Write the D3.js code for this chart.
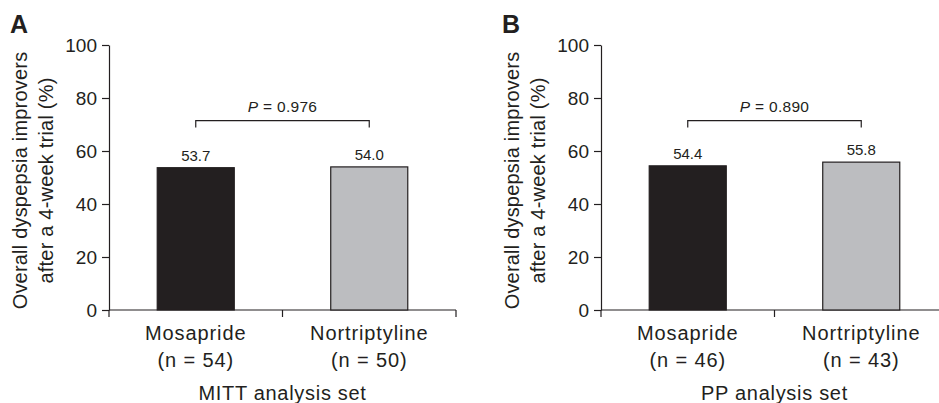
<!doctype html>
<html lang="en">
<head>
    <meta charset="utf-8" />
    <title>Dyspepsia improvers</title>
    <style>
        body { margin: 0; background: #fff; }
        svg { display: block; font-family: "Liberation Sans", Arial, Helvetica, sans-serif; }
    </style>
</head>
<body>
    <svg id="chart"></svg>

    <script src="https://cdn.jsdelivr.net/npm/d3@7/dist/d3.min.js"></script>
    <script>
        // data
        const groups = ["Mosapride", "Nortriptyline"];
        const mittValues = [53.7, 54.0];
        const mittN = [54, 50];
        const ppValues = [54.4, 55.8];
        const ppN = [46, 43];
        const pValues = ["0.976", "0.890"];
        const panelLetters = ["A", "B"];
        const setLabels = ["MITT analysis set", "PP analysis set"];
        const yTicks = [0, 20, 40, 60, 80, 100];
        const barColors = ["#231f20", "#bcbdc0"];

        const width = 939, height = 403;
        const ink = "#231f20";

        const svg = d3.select("#chart")
            .attr("width", width)
            .attr("height", height)
            .attr("viewBox", [0, 0, width, height]);

        const panels = [
            {letter: panelLetters[0], values: mittValues, n: mittN, p: pValues[0], set: setLabels[0], ox: 0},
            {letter: panelLetters[1], values: ppValues, n: ppN, p: pValues[1], set: setLabels[1], ox: 492}
        ];

        panels.forEach(d => drawPanel(svg.append("g").attr("transform", `translate(${d.ox},0)`), d));

        function drawPanel(g, d) {
            const x0 = 109, x1 = 456, yBottom = 310, yTop = 45;

            const x = d3.scaleBand()
                .domain(groups)
                .range([x0, x1])
                .paddingInner(0.556)
                .paddingOuter(0.278);
            const y = d3.scaleLinear()
                .domain([0, 100])
                .range([yBottom, yTop]);

            // y axis
            const yAxis = g.append("g")
                .attr("transform", `translate(${x0},0)`)
                .call(d3.axisLeft(y).tickValues(yTicks).tickSize(7).tickPadding(5).tickSizeOuter(0));
            yAxis.select(".domain").attr("stroke", ink).attr("stroke-width", 1.2);
            yAxis.selectAll(".tick line").attr("stroke", ink).attr("stroke-width", 1.2);
            yAxis.selectAll(".tick text")
                .attr("fill", ink)
                .attr("font-size", 19)
                .attr("font-family", "Liberation Sans, Arial, sans-serif");

            // x axis: line plus ticks at band boundaries
            const xAxis = g.append("g").attr("stroke", ink).attr("stroke-width", 1.2);
            xAxis.append("line")
                .attr("x1", x0).attr("x2", x1)
                .attr("y1", yBottom).attr("y2", yBottom);
            const bounds = [x0].concat(groups.map(c => x(c) + x.bandwidth() / 2 + x.step() / 2));
            xAxis.selectAll("line.tk")
                .data(bounds)
                .join("line")
                .attr("class", "tk")
                .attr("x1", b => b).attr("x2", b => b)
                .attr("y1", yBottom).attr("y2", yBottom + 7);

            // bars
            g.append("g")
                .selectAll("rect")
                .data(groups)
                .join("rect")
                .attr("x", c => x(c))
                .attr("y", (c, i) => y(d.values[i]))
                .attr("width", x.bandwidth())
                .attr("height", (c, i) => yBottom - y(d.values[i]))
                .attr("fill", (c, i) => barColors[i])
                .attr("stroke", ink)
                .attr("stroke-width", 1.2);

            // value labels
            g.append("g")
                .selectAll("text")
                .data(groups)
                .join("text")
                .attr("x", c => x(c) + x.bandwidth() / 2)
                .attr("y", (c, i) => y(d.values[i]) - 7)
                .attr("text-anchor", "middle")
                .attr("font-size", 15)
                .attr("fill", ink)
                .text((c, i) => d.values[i].toFixed(1));

            // category labels
            const cat = g.append("g")
                .attr("font-size", 20)
                .attr("letter-spacing", 0.9)
                .attr("fill", ink)
                .attr("text-anchor", "middle");
            cat.selectAll("text.name")
                .data(groups)
                .join("text")
                .attr("class", "name")
                .attr("x", c => x(c) + x.bandwidth() / 2)
                .attr("y", 340)
                .text(c => c);
            cat.selectAll("text.n")
                .data(groups)
                .join("text")
                .attr("class", "n")
                .attr("x", c => x(c) + x.bandwidth() / 2)
                .attr("y", 367)
                .text((c, i) => `(n = ${d.n[i]})`);

            // set label
            g.append("text")
                .attr("x", (x0 + x1) / 2)
                .attr("y", 400)
                .attr("text-anchor", "middle")
                .attr("font-size", 20)
                .attr("letter-spacing", 0.7)
                .attr("fill", ink)
                .text(d.set);

            // significance bracket
            const bx1 = x(groups[0]) + x.bandwidth() / 2,
                  bx2 = x(groups[1]) + x.bandwidth() / 2,
                  by = y(71.5);
            g.append("path")
                .attr("fill", "none")
                .attr("stroke", ink)
                .attr("stroke-width", 1.2)
                .attr("d", `M${bx1},${by + 7}V${by}H${bx2}V${by + 7}`);
            const pt = g.append("text")
                .attr("x", (bx1 + bx2) / 2)
                .attr("y", by - 9)
                .attr("text-anchor", "middle")
                .attr("font-size", 15.5)
                .attr("letter-spacing", 0.3)
                .attr("fill", ink);
            pt.append("tspan").attr("font-style", "italic").text("P");
            pt.append("tspan").text(` = ${d.p}`);

            // y axis title
            const yt = g.append("text")
                .attr("transform", `translate(0,${(yTop + yBottom) / 2 + 3}) rotate(-90)`)
                .attr("text-anchor", "middle")
                .attr("font-size", 20)
                .attr("letter-spacing", 0.2)
                .attr("fill", ink);
            yt.append("tspan").attr("x", 0).attr("y", 27).text("Overall dyspepsia improvers");
            yt.append("tspan").attr("x", 0).attr("y", 53).text("after a 4-week trial (%)");

            // panel letter
            g.append("text")
                .attr("x", 10)
                .attr("y", 33)
                .attr("font-size", 25)
                .attr("font-weight", "bold")
                .attr("fill", ink)
                .text(d.letter);
        }
    </script>
</body>
</html>
